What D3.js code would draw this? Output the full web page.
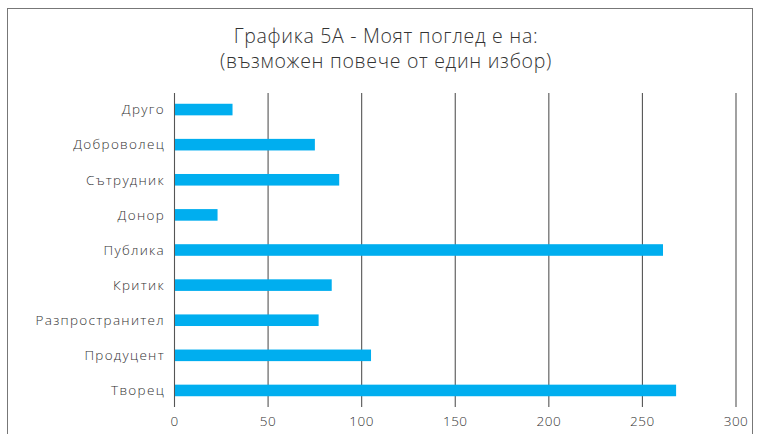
<!DOCTYPE html>
<html lang="bg">
<head>
<meta charset="utf-8">
<script src="https://cdn.jsdelivr.net/npm/d3@7"></script>
<style>
  body { margin: 0; background: #fff; }
  svg { display: block; font-family: "Open Sans", "Noto Sans", sans-serif; }
</style>
</head>
<body>
<svg id="chart" lang="bg"></svg>
<script>
// categories top to bottom, as in the picture
const categories = ["Друго", "Доброволец", "Сътрудник", "Донор", "Публика", "Критик", "Разпространител", "Продуцент", "Творец"];
const counts = [31, 75, 88, 23, 261, 84, 77, 105, 268];
const tickValues = [0, 50, 100, 150, 200, 250, 300];
const titleLines = ["Графика 5A - Моят поглед е на:", "(възможен повече от един избор)"];

const width = 757, height = 434;
const margin = {top: 92, right: 21, bottom: 26, left: 174.5};

const svg = d3.select("#chart")
    .attr("width", width)
    .attr("height", height);

// frame round the chart
svg.append("rect")
    .attr("x", 7.5).attr("y", 8.5)
    .attr("width", 745).attr("height", 440)
    .attr("fill", "none")
    .attr("stroke", "#777")
    .attr("stroke-width", 1);

const x = d3.scaleLinear()
    .domain([0, 300])
    .range([margin.left, width - margin.right]);

const y = d3.scaleBand()
    .domain(categories)
    .range([margin.top, height - margin.bottom])
    .paddingInner(0.67)
    .paddingOuter(0.335);

// vertical gridlines
svg.append("g")
    .selectAll("line")
    .data(tickValues)
    .join("line")
    .attr("x1", d => x(d)).attr("x2", d => x(d))
    .attr("y1", 93).attr("y2", 407)
    .attr("stroke", "#555")
    .attr("stroke-width", 1.1);

// bars
svg.append("g")
    .selectAll("rect")
    .data(categories)
    .join("rect")
    .attr("x", x(0) + 0.5)
    .attr("y", d => y(d))
    .attr("width", (d, i) => x(counts[i]) - x(0) - 0.5)
    .attr("height", y.bandwidth())
    .attr("fill", "#00aeef");

// category labels
svg.append("g")
    .selectAll("text")
    .data(categories)
    .join("text")
    .attr("x", 165)
    .attr("y", d => y(d) + y.bandwidth() / 2)
    .attr("dy", "0.35em")
    .attr("text-anchor", "end")
    .attr("font-size", 13.5)
    .attr("font-weight", 300)
    .attr("letter-spacing", 1.3)
    .attr("fill", "#333")
    .text(d => d);

// tick labels
svg.append("g")
    .selectAll("text")
    .data(tickValues)
    .join("text")
    .attr("x", d => x(d))
    .attr("y", 421)
    .attr("dy", "0.35em")
    .attr("text-anchor", "middle")
    .attr("font-size", 13.5)
    .attr("font-weight", 300)
    .attr("letter-spacing", 0.5)
    .attr("fill", "#333")
    .text(d => d);

// title
svg.append("g")
    .selectAll("text")
    .data(titleLines)
    .join("text")
    .attr("x", 386)
    .attr("y", (d, i) => 43 + i * 25)
    .attr("text-anchor", "middle")
    .attr("font-size", 19.5)
    .attr("font-weight", 300)
    .attr("letter-spacing", 0.7)
    .attr("fill", "#333")
    .text(d => d);
</script>
</body>
</html>
